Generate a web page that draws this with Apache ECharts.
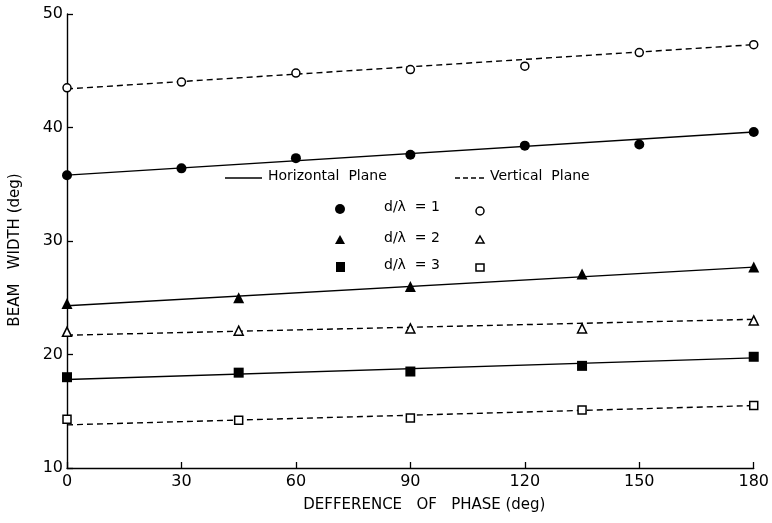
<!DOCTYPE html>
<html>
<head>
<meta charset="utf-8">
<script src="https://cdn.jsdelivr.net/npm/echarts@6/dist/echarts.min.js"></script>
<style>
html,body{margin:0;padding:0;background:#fff;}
#chart{width:772px;height:523px;}
</style>
</head>
<body>
<div id="chart"></div>
<script>
// Data
const phaseD1 = [0, 30, 60, 90, 120, 150, 180];
const horizD1 = [35.8, 36.4, 37.3, 37.6, 38.4, 38.5, 39.6];
const vertD1  = [43.5, 44.0, 44.8, 45.1, 45.4, 46.6, 47.3];

const phaseD23 = [0, 45, 90, 135, 180];
const horizD2 = [24.5, 25.0, 26.0, 27.1, 27.7];
const vertD2  = [22.0, 22.1, 22.3, 22.3, 23.0];
const horizD3 = [18.0, 18.4, 18.5, 19.0, 19.8];
const vertD3  = [14.3, 14.2, 14.4, 15.1, 15.5];

// Fitted straight lines (values at phase 0 and 180)
const fitPhase = [0, 180];
const fitH1 = [35.8, 39.6];
const fitV1 = [43.4, 47.3];
const fitH2 = [24.3, 27.7];
const fitV2 = [21.7, 23.1];
const fitH3 = [17.8, 19.7];
const fitV3 = [13.8, 15.5];

const xTicks = [0, 30, 60, 90, 120, 150, 180];
const yTicks = [10, 20, 30, 40, 50];

const FONT = 'DejaVu Sans';
const INK = '#000';

function pairs(xs, ys) { return xs.map((x, i) => [x, ys[i]]); }

function fitLine(name, ys, dashed) {
  return {
    name: name, type: 'line', data: pairs(fitPhase, ys),
    showSymbol: false, silent: true, z: 2,
    lineStyle: { color: INK, width: 1.4, type: dashed ? [6, 4] : 'solid' }
  };
}
function pts(name, xs, ys, symbol, size, filled) {
  return {
    name: name, type: 'scatter', data: pairs(xs, ys),
    symbol: symbol, symbolSize: size, z: 5,
    itemStyle: filled ? { color: INK, opacity: 1 } : { color: '#fff', borderColor: INK, borderWidth: 1.5, opacity: 1 }
  };
}

const chart = echarts.init(document.getElementById('chart'));

const legendText = { fill: INK, font: '14px "' + FONT + '"' };
const rows = [
  { y: 209, label: 'd/\u03BB  = 1', sym: 'circle' },
  { y: 240, label: 'd/\u03BB  = 2', sym: 'tri' },
  { y: 267, label: 'd/\u03BB  = 3', sym: 'rect' }
];
const graphics = [
  { type: 'line', shape: { x1: 225, y1: 178, x2: 262, y2: 178 }, style: { stroke: INK, lineWidth: 1.4 } },
  { type: 'text', left: 268, top: 169, style: Object.assign({ text: 'Horizontal  Plane' }, legendText) },
  { type: 'line', shape: { x1: 455, y1: 178, x2: 484, y2: 178 }, style: { stroke: INK, lineWidth: 1.4, lineDash: [5, 3] } },
  { type: 'text', left: 490, top: 169, style: Object.assign({ text: 'Vertical  Plane' }, legendText) }
];
rows.forEach(r => {
  graphics.push({ type: 'text', left: 384, top: r.y - 9, style: Object.assign({ text: r.label }, legendText) });
  if (r.sym === 'circle') {
    graphics.push({ type: 'circle', shape: { cx: 340, cy: r.y, r: 5 }, style: { fill: INK } });
    graphics.push({ type: 'circle', shape: { cx: 480, cy: r.y + 2, r: 4 }, style: { fill: '#fff', stroke: INK, lineWidth: 1.5 } });
  } else if (r.sym === 'tri') {
    graphics.push({ type: 'polygon', shape: { points: [[340, r.y - 5], [345, r.y + 4], [335, r.y + 4]] }, style: { fill: INK } });
    graphics.push({ type: 'polygon', shape: { points: [[480, r.y - 4], [484, r.y + 3], [476, r.y + 3]] }, style: { fill: '#fff', stroke: INK, lineWidth: 1.5 } });
  } else {
    graphics.push({ type: 'rect', shape: { x: 336, y: r.y - 5, width: 9, height: 10 }, style: { fill: INK } });
    graphics.push({ type: 'rect', shape: { x: 476, y: r.y - 3, width: 8, height: 7 }, style: { fill: '#fff', stroke: INK, lineWidth: 1.5 } });
  }
});

chart.setOption({
  animation: false,
  backgroundColor: '#fff',
  grid: { left: 67, right: 18, top: 14, bottom: 55, containLabel: false },
  xAxis: {
    type: 'value', min: xTicks[0], max: xTicks[xTicks.length - 1], interval: 30,
    name: 'DEFFERENCE   OF   PHASE (deg)', nameLocation: 'middle', nameGap: 30,
    nameTextStyle: { color: INK, fontFamily: FONT, fontSize: 15, padding: [0, 0, 0, 28] },
    axisLine: { lineStyle: { color: INK, width: 1.4 } },
    axisTick: { inside: true, length: 6, lineStyle: { color: INK, width: 1.3 } },
    axisLabel: { color: INK, fontFamily: FONT, fontSize: 16, margin: 6 },
    splitLine: { show: false }
  },
  yAxis: {
    type: 'value', min: yTicks[0], max: yTicks[yTicks.length - 1], interval: 10,
    name: 'BEAM   WIDTH (deg)', nameLocation: 'middle', nameGap: 44, nameRotate: 90,
    nameTextStyle: { color: INK, fontFamily: FONT, fontSize: 15, padding: [0, 18, 0, 0] },
    axisLine: { lineStyle: { color: INK, width: 1.4 } },
    axisTick: { inside: true, length: 6, lineStyle: { color: INK, width: 1.3 } },
    axisLabel: { color: INK, fontFamily: FONT, fontSize: 16, margin: 4 },
    splitLine: { show: false }
  },
  graphic: graphics,
  series: [
    fitLine('Horizontal d/λ=1 fit', fitH1, false),
    fitLine('Vertical d/λ=1 fit', fitV1, true),
    fitLine('Horizontal d/λ=2 fit', fitH2, false),
    fitLine('Vertical d/λ=2 fit', fitV2, true),
    fitLine('Horizontal d/λ=3 fit', fitH3, false),
    fitLine('Vertical d/λ=3 fit', fitV3, true),
    pts('Horizontal d/λ=1', phaseD1, horizD1, 'circle', 10, true),
    pts('Vertical d/λ=1', phaseD1, vertD1, 'circle', 8, false),
    pts('Horizontal d/λ=2', phaseD23, horizD2, 'triangle', 11, true),
    pts('Vertical d/λ=2', phaseD23, vertD2, 'triangle', 9, false),
    pts('Horizontal d/λ=3', phaseD23, horizD3, 'rect', 10, true),
    pts('Vertical d/λ=3', phaseD23, vertD3, 'rect', 8, false)
  ]
});
</script>
</body>
</html>
